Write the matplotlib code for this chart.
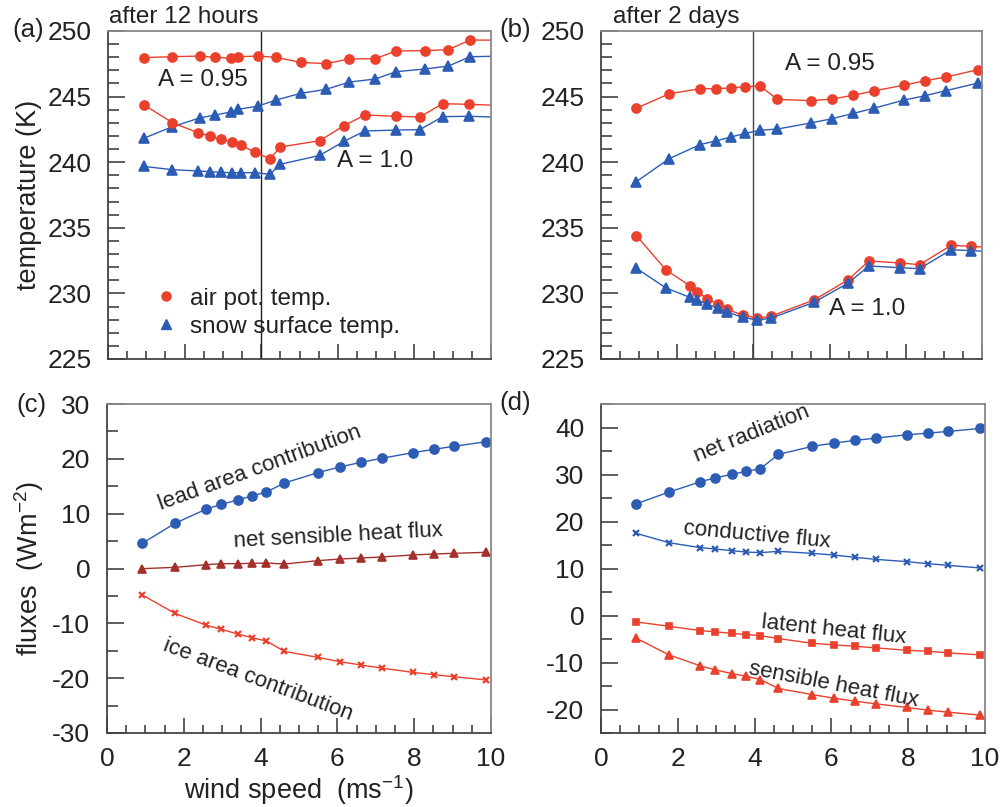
import matplotlib
matplotlib.use("Agg")
import matplotlib.pyplot as plt
from matplotlib.lines import Line2D
from matplotlib.ticker import MultipleLocator, NullFormatter

plt.rcParams['font.family'] = ['Liberation Sans', 'DejaVu Sans']
plt.rcParams['axes.unicode_minus'] = False
plt.rcParams['mathtext.fontset'] = 'custom'
plt.rcParams['mathtext.rm'] = 'Liberation Sans'
plt.rcParams['mathtext.default'] = 'regular'
TXT = '#222222'
RED = '#ea402c'
BLUE = '#2c5cb4'
BROWN = '#a3302b'

# ---- (a) after 12 hours (last point lies beyond x=10, line is clipped)
wind_a95_12h = [0.93, 1.66, 2.39, 2.80, 3.22, 3.40, 3.92, 4.39, 5.03, 5.69, 6.30, 6.98, 7.52, 8.27, 8.89, 9.45, 10.5]
air_a95_12h = [247.97, 248.04, 248.09, 247.99, 247.92, 248.04, 248.09, 247.99, 247.61, 247.51,
               247.87, 247.89, 248.48, 248.50, 248.58, 249.31, 249.3]
snow_a95_12h = [241.82, 242.68, 243.37, 243.60, 243.83, 244.03, 244.28, 244.74, 245.25, 245.55,
                246.11, 246.34, 246.90, 247.10, 247.33, 248.04, 248.1]
wind_a10_12h = [0.93, 1.68, 2.35, 2.66, 2.94, 3.24, 3.46, 3.83, 4.23, 4.50, 5.53, 6.16, 6.71, 7.52, 8.14, 8.74, 9.43, 10.5]
air_a10_12h = [244.39, 243.01, 242.25, 242.00, 241.74, 241.54, 241.34, 240.75, 240.27, 241.16,
               241.64, 242.78, 243.60, 243.50, 243.45, 244.46, 244.41, 244.3]
snow_a10_12h = [239.68, 239.43, 239.33, 239.28, 239.23, 239.20, 239.20, 239.20, 239.08, 239.84,
                240.52, 241.59, 242.38, 242.45, 242.48, 243.47, 243.50, 243.4]

# ---- (b) after 2 days
wind_a95_2d = [0.93, 1.79, 2.60, 3.01, 3.41, 3.79, 4.17, 4.63, 5.51, 6.07, 6.62, 7.16, 7.96, 8.51, 9.05, 9.90, 10.5]
air_a95_2d = [244.11, 245.22, 245.60, 245.60, 245.66, 245.76, 245.81, 244.79, 244.69, 244.82,
              245.10, 245.43, 245.88, 246.21, 246.49, 247.05, 247.3]
snow_a95_2d = [238.52, 240.27, 241.34, 241.62, 241.92, 242.20, 242.43, 242.53, 242.99, 243.32,
               243.72, 244.11, 244.74, 245.07, 245.45, 246.04, 246.3]
wind_a10_2d = [0.93, 1.71, 2.33, 2.52, 2.79, 3.06, 3.30, 3.72, 4.09, 4.45, 5.59, 6.48, 7.03, 7.85, 8.36, 9.19, 9.71, 10.5]
air_a10_2d = [234.40, 231.78, 230.59, 230.11, 229.60, 229.17, 228.79, 228.35, 228.10, 228.25,
              229.50, 231.02, 232.47, 232.32, 232.19, 233.66, 233.59, 233.45]
snow_a10_2d = [231.91, 230.41, 229.70, 229.50, 229.19, 228.86, 228.58, 228.18, 227.97, 228.10,
               229.32, 230.77, 232.09, 231.96, 231.88, 233.33, 233.26, 233.15]

# ---- (c), (d) fluxes
wind_flux = [0.92, 1.77, 2.59, 2.98, 3.40, 3.77, 4.15, 4.62, 5.49, 6.06, 6.61, 7.15, 7.96, 8.51, 9.03, 9.88]
lead_area = [4.59, 8.24, 10.85, 11.70, 12.49, 13.22, 13.95, 15.59, 17.48, 18.51, 19.36, 20.09, 21.12, 21.73, 22.28, 23.13]
net_sensible = [-0.03, 0.21, 0.70, 0.88, 0.88, 0.94, 1.00, 0.82, 1.43, 1.73, 1.91, 2.10, 2.46, 2.64, 2.77, 2.95]
ice_area = [-4.83, -8.18, -10.36, -11.09, -11.94, -12.61, -13.22, -15.11, -16.20, -16.99, -17.60, -18.15,
            -18.94, -19.36, -19.73, -20.33]
net_radiation = [23.78, 26.26, 28.46, 29.31, 30.02, 30.66, 31.22, 34.27, 35.97, 36.68, 37.25, 37.74,
                 38.45, 38.80, 39.16, 39.80]
conductive = [17.48, 15.49, 14.43, 14.15, 13.79, 13.51, 13.37, 13.65, 13.23, 12.87, 12.38, 11.95,
              11.46, 11.03, 10.68, 10.11]
latent = [-1.37, -2.29, -3.21, -3.49, -3.78, -4.06, -4.27, -4.91, -5.90, -6.25, -6.54, -6.89,
          -7.39, -7.60, -7.95, -8.38]
sensible = [-4.84, -8.38, -10.72, -11.57, -12.35, -12.91, -13.62, -15.53, -16.81, -17.59, -18.22,
            -18.79, -19.57, -20.14, -20.56, -21.20]

W, H = 1003, 807
fig = plt.figure(figsize=(W / 100, H / 100), dpi=100)


def box(l, r, t, b):
    return [l / W, 1 - b / H, (r - l) / W, (b - t) / H]


ax_a = fig.add_axes(box(108, 491, 31, 359))
ax_b = fig.add_axes(box(601, 982, 31, 359))
ax_c = fig.add_axes(box(107, 491, 404, 733))
ax_d = fig.add_axes(box(601, 985, 404, 733))


def style(ax, ymaj, ymin, xlabels):
    ax.set_xlim(0, 10)
    ax.xaxis.set_major_locator(MultipleLocator(2))
    ax.xaxis.set_minor_locator(MultipleLocator(0.5))
    ax.yaxis.set_major_locator(MultipleLocator(ymaj))
    ax.yaxis.set_minor_locator(MultipleLocator(ymin))
    ax.tick_params(which='both', direction='in', top=False, right=False,
                   colors='#333333', labelcolor=TXT, labelsize=19, width=1.1)
    ax.tick_params(axis='y', which='major', length=12, pad=12)
    ax.tick_params(axis='y', which='minor', length=8)
    ax.tick_params(axis='x', which='major', length=11, pad=10)
    ax.tick_params(axis='x', which='minor', length=6)
    if not xlabels:
        ax.xaxis.set_major_formatter(NullFormatter())
    for s in ['left', 'bottom']:
        ax.spines[s].set_color('#444444')
        ax.spines[s].set_linewidth(1.3)
    for s in ['top', 'right']:
        ax.spines[s].set_color('#888888')
        ax.spines[s].set_linewidth(1.3)


def series(ax, x, y, color, marker, ms, mew=1.2):
    ax.plot(x, y, color=color, lw=1.0, marker=marker, ms=ms,
            mfc=color, mec=color, mew=mew)


# (a)
style(ax_a, 5, 1, False)
ax_a.set_ylim(225, 250)
ax_a.axvline(4, color='#222222', lw=1.0)
series(ax_a, wind_a95_12h, air_a95_12h, RED, 'o', 6.5)
series(ax_a, wind_a95_12h, snow_a95_12h, BLUE, '^', 6.5)
series(ax_a, wind_a10_12h, air_a10_12h, RED, 'o', 6.5)
series(ax_a, wind_a10_12h, snow_a10_12h, BLUE, '^', 6.5)
ax_a.text(1.31, 245.8, 'A = 0.95', fontsize=17.5, color=TXT)
ax_a.text(5.99, 239.6, 'A = 1.0', fontsize=17.5, color=TXT)
ax_a.set_ylabel('temperature (K)', fontsize=19.5, color=TXT)
ax_a.yaxis.set_label_coords(-0.172, 0.5)
handles = [Line2D([], [], ls='none', marker='o', ms=6.5, color=RED),
           Line2D([], [], ls='none', marker='^', ms=7, color=BLUE)]
ax_a.legend(handles, ['air pot. temp.', 'snow surface temp.'], loc='upper left',
            bbox_to_anchor=(0.12, 0.218), frameon=False, fontsize=17.5, handlelength=1.0,
            handletextpad=0.5, labelspacing=0.25, borderpad=0, borderaxespad=0,
            labelcolor=TXT)

# (b)
style(ax_b, 5, 1, False)
ax_b.set_ylim(225, 250)
ax_b.axvline(4, color='#444444', lw=1.0)
series(ax_b, wind_a95_2d, air_a95_2d, RED, 'o', 6.5)
series(ax_b, wind_a95_2d, snow_a95_2d, BLUE, '^', 6.5)
series(ax_b, wind_a10_2d, air_a10_2d, RED, 'o', 6.5)
series(ax_b, wind_a10_2d, snow_a10_2d, BLUE, '^', 6.5)
ax_b.text(4.83, 247.0, 'A = 0.95', fontsize=17.5, color=TXT)
ax_b.text(5.99, 228.35, 'A = 1.0', fontsize=17.5, color=TXT)

# (c)
style(ax_c, 10, 5, True)
ax_c.set_ylim(-30, 30)
series(ax_c, wind_flux, lead_area, BLUE, 'o', 6.5)
series(ax_c, wind_flux, net_sensible, BROWN, '^', 6)
series(ax_c, wind_flux, ice_area, RED, 'x', 5, 1.6)
ax_c.text(1.4, 10.6, 'lead area contribution', fontsize=16, color=TXT, rotation=20,
          rotation_mode='anchor')
ax_c.text(3.32, 4.0, 'net sensible heat flux', fontsize=16, color=TXT, rotation=3,
          rotation_mode='anchor')
ax_c.text(1.58, -12.2, 'ice area contribution', fontsize=16, color=TXT, rotation=-20.5,
          rotation_mode='anchor', va='top')
ax_c.set_ylabel('fluxes  (Wm$^{-2}$)', fontsize=19.5, color=TXT)
ax_c.yaxis.set_label_coords(-0.16, 0.5)
ax_c.set_xlabel('wind speed  (ms$^{-1}$)', fontsize=19.5, color=TXT)
ax_c.xaxis.set_label_coords(0.5, -0.122)

# (d)
style(ax_d, 10, 5, True)
ax_d.set_ylim(-25, 45)
series(ax_d, wind_flux, net_radiation, BLUE, 'o', 6.5)
series(ax_d, wind_flux, conductive, BLUE, 'x', 5, 1.6)
series(ax_d, wind_flux, latent, RED, 's', 5)
series(ax_d, wind_flux, sensible, RED, '^', 6)
ax_d.text(2.51, 32.6, 'net radiation', fontsize=16, color=TXT, rotation=22,
          rotation_mode='anchor')
ax_d.text(2.13, 17.3, 'conductive flux', fontsize=16, color=TXT, rotation=-5.2,
          rotation_mode='anchor')
ax_d.text(4.16, -2.6, 'latent heat flux', fontsize=16, color=TXT, rotation=-6,
          rotation_mode='anchor')
ax_d.text(3.84, -12.5, 'sensible heat flux', fontsize=16, color=TXT, rotation=-10.8,
          rotation_mode='anchor')

# panel labels and titles
fig.text(12 / W, 1 - 30 / H, '(a)', fontsize=18.5, color=TXT, va='center')
fig.text(499 / W, 1 - 30 / H, '(b)', fontsize=18.5, color=TXT, va='center')
fig.text(16 / W, 1 - 405 / H, '(c)', fontsize=18.5, color=TXT, va='center')
fig.text(499 / W, 1 - 403 / H, '(d)', fontsize=18.5, color=TXT, va='center')
fig.text(109 / W, 1 - 17 / H, 'after 12 hours', fontsize=17.5, color=TXT, va='center')
fig.text(613 / W, 1 - 17 / H, 'after 2 days', fontsize=17.5, color=TXT, va='center')

fig.savefig('out.png', dpi=100)
